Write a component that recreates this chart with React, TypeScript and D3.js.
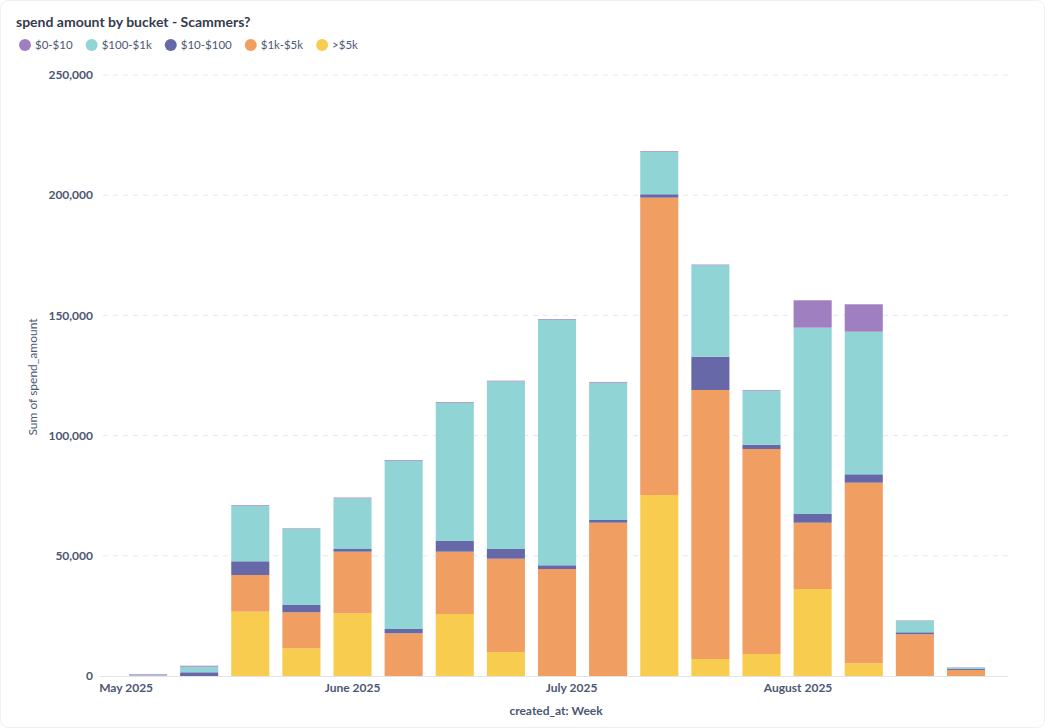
import React, { useRef, useEffect } from "react";
import * as d3 from "d3";

// weekly buckets (week start, Sunday)
const weeks = [
  "2025-05-04", "2025-05-11", "2025-05-18", "2025-05-25", "2025-06-01",
  "2025-06-08", "2025-06-15", "2025-06-22", "2025-06-29", "2025-07-06",
  "2025-07-13", "2025-07-20", "2025-07-27", "2025-08-03", "2025-08-10",
  "2025-08-17", "2025-08-24",
];

const over5k = [0, 0, 26750, 11520, 26080, 0, 25790, 9980, 0, 0, 75300, 7070, 9150, 36190, 5280, 0, 0];
const from1kTo5k = [0, 0, 15270, 14980, 25630, 17760, 25920, 38810, 44510, 63770, 123680, 111900, 85280, 27580, 75130, 17350, 2500];
const from10To100 = [0, 1540, 5700, 3040, 1120, 1790, 4450, 4035, 1540, 1120, 1410, 13850, 1790, 3620, 3490, 830, 400];
const from100To1k = [300, 2330, 23000, 31740, 21090, 70010, 57520, 69720, 102150, 57120, 17600, 38020, 22340, 77500, 59320, 4700, 550];
const from0To10 = [400, 400, 300, 200, 300, 300, 300, 300, 300, 300, 300, 300, 300, 11400, 11400, 200, 150];

const legendOrder = ["$0-$10", "$100-$1k", "$10-$100", "$1k-$5k", ">$5k"];
const stackOrder = [">$5k", "$1k-$5k", "$10-$100", "$100-$1k", "$0-$10"];
const seriesValues: Record<string, number[]> = {
  ">$5k": over5k,
  "$1k-$5k": from1kTo5k,
  "$10-$100": from10To100,
  "$100-$1k": from100To1k,
  "$0-$10": from0To10,
};
const colors: Record<string, string> = {
  "$0-$10": "#a07fc1",
  "$100-$1k": "#90d4d5",
  "$10-$100": "#6768a7",
  "$1k-$5k": "#f19e63",
  ">$5k": "#f8cd4f",
};
const yTicks = [0, 50000, 100000, 150000, 200000, 250000];

const App: React.FC = () => {
  const ref = useRef<SVGSVGElement | null>(null);

  useEffect(() => {
    if (!ref.current) return;
    const svg = d3.select(ref.current);
    svg.selectAll("*").remove();

    const width = 1045;
    const height = 728;
    const font = "Lato, 'Noto Sans', sans-serif";
    const textDark = "#4c5773";

    svg.attr("width", width).attr("height", height).style("font-family", font);

    // card
    svg
      .append("rect")
      .attr("x", 0.5)
      .attr("y", 0.5)
      .attr("width", width - 1)
      .attr("height", height - 1)
      .attr("rx", 8)
      .attr("fill", "#fff")
      .attr("stroke", "#eeeff1");

    const parse = d3.timeParse("%Y-%m-%d");
    const dates = weeks.map((w) => parse(w)!);

    const rows = weeks.map((w, i) => {
      const r: any = { date: dates[i] };
      stackOrder.forEach((k) => (r[k] = seriesValues[k][i]));
      return r;
    });

    const first = dates[0];
    const last = dates[dates.length - 1];
    const x = d3
      .scaleTime()
      .domain([d3.timeHour.offset(first, -148), d3.timeHour.offset(last, 138)])
      .range([103, 1008]);

    const y = d3.scaleLinear().domain([0, 250000]).range([676, 75]);

    // grid
    svg
      .append("g")
      .selectAll("line")
      .data(yTicks.filter((t) => t > 0))
      .join("line")
      .attr("x1", 103)
      .attr("x2", 1008)
      .attr("y1", (d) => y(d))
      .attr("y2", (d) => y(d))
      .attr("stroke", "#e6e8eb")
      .attr("stroke-dasharray", "5,5");

    // y tick labels
    svg
      .append("g")
      .selectAll("text")
      .data(yTicks)
      .join("text")
      .attr("x", 93)
      .attr("y", (d) => y(d))
      .attr("dy", "0.35em")
      .attr("text-anchor", "end")
      .attr("fill", textDark)
      .style("font-size", "12px")
      .style("font-weight", 700)
      .text((d) => d3.format(",")(d));

    // bars
    const stack = d3.stack<any>().keys(stackOrder);
    const series = stack(rows);
    const step = x(d3.timeDay.offset(first, 7)) - x(first);
    const bw = step * 0.745;

    svg
      .append("g")
      .selectAll("g")
      .data(series)
      .join("g")
      .attr("fill", (s) => colors[s.key])
      .selectAll("rect")
      .data((s) => s)
      .join("rect")
      .attr("x", (d) => x(d.data.date) - bw / 2)
      .attr("width", bw)
      .attr("y", (d) => y(d[1]))
      .attr("height", (d) => Math.max(0, y(d[0]) - y(d[1])));

    // baseline
    svg
      .append("line")
      .attr("x1", 100)
      .attr("x2", 1008)
      .attr("y1", y(0) + 0.5)
      .attr("y2", y(0) + 0.5)
      .attr("stroke", "#e1e3e7");

    // x tick labels
    const months = d3.timeMonth.range(d3.timeMonth.ceil(x.domain()[0]), x.domain()[1]);
    svg
      .append("g")
      .selectAll("text")
      .data(months)
      .join("text")
      .attr("x", (d) => x(d))
      .attr("y", 692)
      .attr("text-anchor", "middle")
      .attr("fill", textDark)
      .style("font-size", "12px")
      .style("font-weight", 700)
      .text((d) => d3.timeFormat("%B %Y")(d));

    // axis titles
    svg
      .append("text")
      .attr("x", 556)
      .attr("y", 715)
      .attr("text-anchor", "middle")
      .attr("fill", textDark)
      .style("font-size", "12px")
      .style("font-weight", 700)
      .text("created_at: Week");

    svg
      .append("text")
      .attr("transform", `translate(37,377) rotate(-90)`)
      .attr("text-anchor", "middle")
      .attr("fill", textDark)
      .style("font-size", "12px")
      .text("Sum of spend_amount");

    // title
    svg
      .append("text")
      .attr("x", 16)
      .attr("y", 27)
      .attr("fill", "#343b4d")
      .style("font-size", "14px")
      .style("font-weight", 700)
      .text("spend amount by bucket - Scammers?");

    // legend
    const legend = svg.append("g");
    let lx = 19;
    legendOrder.forEach((k) => {
      const g = legend.append("g").attr("transform", `translate(${lx},45)`);
      g.append("circle").attr("cx", 6).attr("cy", 0).attr("r", 6).attr("fill", colors[k]);
      const t = g
        .append("text")
        .attr("x", 16)
        .attr("dy", "0.35em")
        .attr("fill", textDark)
        .style("font-size", "11.5px")
        .text(k);
      const tw = (t.node() as SVGTextElement).getComputedTextLength();
      lx += 16 + tw + 13;
    });
  }, []);

  return (
    <svg
      ref={ref}
      style={{ position: "absolute", left: 0, top: 0, display: "block" }}
    ></svg>
  );
};

export default App;
